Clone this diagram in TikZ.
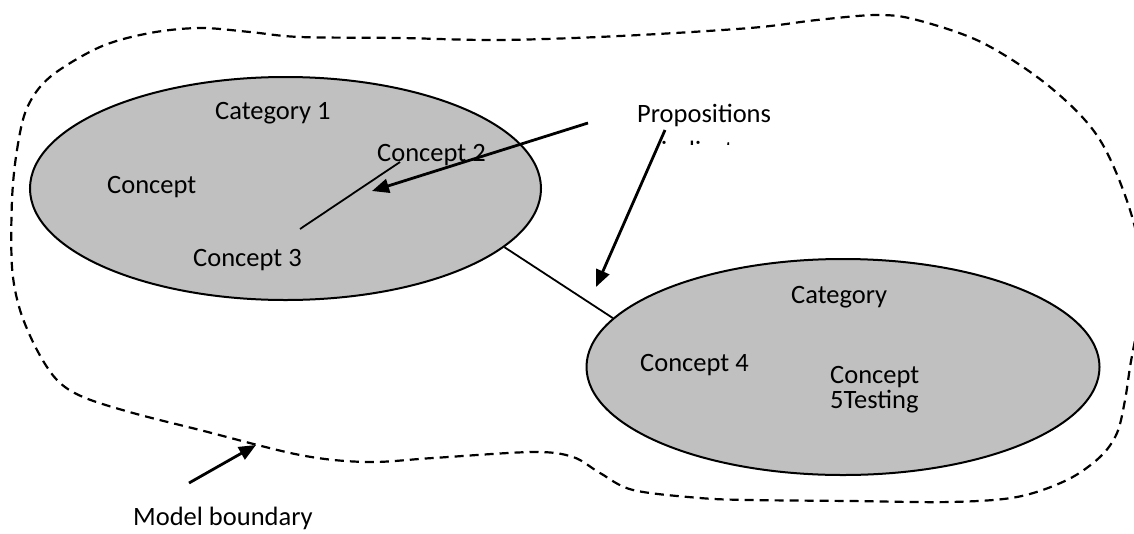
\documentclass[tikz,border=0pt]{standalone}
\usepackage{fontspec}
\setmainfont{Carlito}
\usetikzlibrary{shapes.geometric,arrows.meta}
\definecolor{catgray}{HTML}{C0C0C0}
\begin{document}
\begin{tikzpicture}[x=1pt,y=-1pt,
  lbl/.style={anchor=base west,inner sep=0pt,font=\fontsize{26.5}{32}\selectfont},
  cat/.style={ellipse,draw=black,line width=2pt,fill=catgray,inner sep=0pt},
  link/.style={line width=1.8pt},
  pointer/.style={line width=2.8pt,-{Triangle[length=17pt,width=14pt]}},
  bound/.style={line width=2.2pt,dash pattern=on 9pt off 6pt}]
\useasboundingbox (0,0) rectangle (1134,533);
\clip (0,0) rectangle (1134,533);

% model boundary
\draw[bound] plot[smooth cycle,tension=0.55] coordinates {
  (12,200) (17,150) (27,108) (50,77) (100,47) (150,33) (200,28) (250,32)
  (300,37) (400,38) (500,40) (620,36) (750,28) (817,20) (877,15) (917,20)
  (983,43) (1050,87) (1100,140) (1133,220) (1142,290) (1130,367) (1125,400)
  (1117,433) (1100,457) (1067,480) (1017,497) (950,502) (850,501) (750,500)
  (700,498) (633,490) (600,473) (573,457) (533,452) (433,458) (367,462)
  (300,455) (200,430) (133,413) (83,397) (57,380) (37,350) (20,310) (12,267)};

% categories
\node[cat,minimum width=511pt,minimum height=223pt] (cat1) at (285.5,188.5) {};
\node[cat,minimum width=513pt,minimum height=216pt] (cat2) at (843,367) {};

% labels
\node[lbl] (cat1lbl) at (215,119) {Category 1};
\node[lbl] (c1) at (107,193) {Concept};
\node[lbl] (c2) at (377,161) {Concept 2};
\node[lbl] (c3) at (193,266) {Concept 3};
\node[lbl] (cat2lbl) at (791,303) {Category};
\node[lbl] (c4) at (640,371) {Concept 4};
\node[lbl] (c5a) at (830,383) {Concept};
\node[lbl] (c5b) at (830,408) {5Testing};
\node[lbl] (prop) at (637,122) {Propositions};
\node[lbl] (model) at (133,525) {Model boundary};
\begin{scope}
  \clip (600,138.5) rectangle (780,144.5);
  \node[lbl] (propmore) at (661,159) {indicates};
\end{scope}

% connectors
\coordinate (c3top) at (300,229);
\coordinate (c2foot) at (400,162);
\draw[link] (c3top) -- (c2foot);
\draw[link] (cat1.-15) -- (cat2.168);

\coordinate (propA) at (588,123);
\coordinate (propAend) at (372,191);
\coordinate (propB) at (665,130);
\coordinate (propBend) at (596,287);
\draw[pointer] (propA) -- (propAend);
\draw[pointer] (propB) -- (propBend);

\coordinate (modelA) at (189,483);
\coordinate (modelB) at (256,445);
\draw[pointer] (modelA) -- (modelB);
\end{tikzpicture}
\end{document}
